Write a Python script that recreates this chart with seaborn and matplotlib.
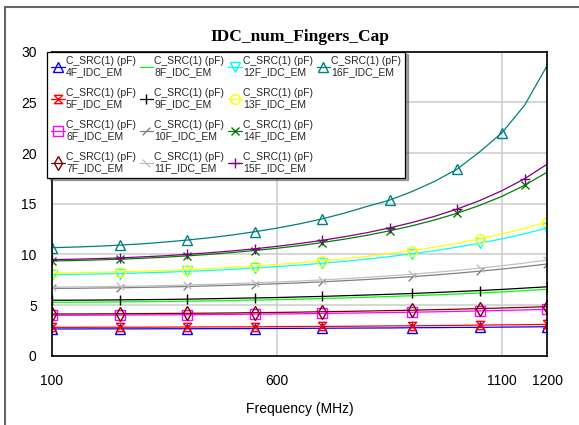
import matplotlib
matplotlib.use("Agg")
import matplotlib.pyplot as plt
from matplotlib.lines import Line2D
import seaborn as sns
import pandas as pd

freq = [100, 150, 200, 250, 300, 350, 400, 450, 500, 550, 600, 650,
        700, 750, 800, 850, 900, 950, 1000, 1050, 1100, 1150, 1200]

c4f = [2.64, 2.64, 2.65, 2.65, 2.65, 2.66, 2.66, 2.67, 2.67, 2.68, 2.69, 2.70,
       2.71, 2.72, 2.73, 2.74, 2.76, 2.77, 2.79, 2.80, 2.82, 2.84, 2.86]
c5f = [2.80, 2.80, 2.81, 2.81, 2.81, 2.82, 2.83, 2.84, 2.84, 2.85, 2.87, 2.88,
       2.89, 2.90, 2.92, 2.94, 2.95, 2.97, 2.99, 3.02, 3.04, 3.06, 3.09]
c6f = [3.99, 3.99, 4.00, 4.01, 4.02, 4.03, 4.04, 4.06, 4.08, 4.10, 4.12, 4.14,
       4.17, 4.20, 4.23, 4.26, 4.29, 4.33, 4.37, 4.42, 4.47, 4.52, 4.57]
c7f = [4.12, 4.12, 4.13, 4.14, 4.15, 4.17, 4.18, 4.20, 4.22, 4.25, 4.27, 4.30,
       4.34, 4.37, 4.41, 4.45, 4.49, 4.54, 4.59, 4.65, 4.71, 4.77, 4.84]
c8f = [5.27, 5.28, 5.29, 5.31, 5.33, 5.35, 5.38, 5.41, 5.45, 5.49, 5.53, 5.58,
       5.64, 5.70, 5.77, 5.84, 5.92, 6.00, 6.09, 6.19, 6.30, 6.42, 6.55]
c9f = [5.47, 5.48, 5.49, 5.51, 5.53, 5.55, 5.58, 5.62, 5.66, 5.70, 5.74, 5.80,
       5.85, 5.92, 5.99, 6.06, 6.14, 6.23, 6.33, 6.43, 6.54, 6.67, 6.80]
c10f = [6.64, 6.65, 6.68, 6.70, 6.74, 6.78, 6.83, 6.89, 6.95, 7.02, 7.10, 7.19,
        7.29, 7.40, 7.52, 7.66, 7.80, 7.96, 8.14, 8.34, 8.55, 8.79, 9.05]
c11f = [6.77, 6.79, 6.81, 6.84, 6.88, 6.92, 6.98, 7.04, 7.11, 7.19, 7.27, 7.37,
        7.48, 7.60, 7.73, 7.88, 8.04, 8.22, 8.42, 8.64, 8.88, 9.14, 9.44]
c12f = [8.00, 8.03, 8.06, 8.11, 8.17, 8.24, 8.32, 8.41, 8.52, 8.65, 8.79, 8.94,
        9.12, 9.31, 9.53, 9.78, 10.05, 10.36, 10.71, 11.10, 11.53, 12.03, 12.60]
c13f = [8.16, 8.19, 8.23, 8.28, 8.34, 8.41, 8.50, 8.60, 8.72, 8.85, 9.00, 9.17,
        9.36, 9.57, 9.81, 10.08, 10.38, 10.71, 11.09, 11.52, 12.01, 12.56, 13.20]
c14f = [9.35, 9.39, 9.45, 9.52, 9.61, 9.72, 9.85, 10.00, 10.18, 10.38, 10.60, 10.86,
        11.16, 11.50, 11.88, 12.32, 12.82, 13.39, 14.05, 14.83, 15.73, 16.81, 18.10]
c15f = [9.48, 9.52, 9.58, 9.65, 9.75, 9.86, 10.00, 10.16, 10.34, 10.55, 10.79, 11.07,
        11.38, 11.74, 12.14, 12.61, 13.14, 13.75, 14.47, 15.30, 16.29, 17.46, 18.89]
c16f = [10.66, 10.72, 10.80, 10.91, 11.04, 11.21, 11.41, 11.64, 11.91, 12.23, 12.59, 13.01,
        13.50, 14.07, 14.73, 15.35, 16.20, 17.20, 18.40, 20.10, 22.00, 24.70, 28.60]

names = ["4F_IDC_EM", "5F_IDC_EM", "6F_IDC_EM", "7F_IDC_EM", "8F_IDC_EM",
         "9F_IDC_EM", "10F_IDC_EM", "11F_IDC_EM", "12F_IDC_EM", "13F_IDC_EM",
         "14F_IDC_EM", "15F_IDC_EM", "16F_IDC_EM"]
series = [c4f, c5f, c6f, c7f, c8f, c9f, c10f, c11f, c12f, c13f, c14f, c15f, c16f]

x_ticks = [100, 600, 1100, 1200]
y_ticks = [0, 5, 10, 15, 20, 25, 30]

hourglass = [(-1, 1), (1, 1), (-1, -1), (1, -1), (-1, 1)]
slash = [(-1, -1), (1, 1)]
bslash = [(-1, 1), (1, -1)]

styles = [
    dict(color="#0000ff", marker="^", ms=6.5),
    dict(color="#ff0000", marker=hourglass, ms=6.0),
    dict(color="#ff00ff", marker="s", ms=6.5),
    dict(color="#800000", marker="d", ms=7),
    dict(color="#00ff00", marker=None, ms=0),
    dict(color="#000000", marker="|", ms=6.5),
    dict(color="#808080", marker=slash, ms=5.5),
    dict(color="#c0c0c0", marker=bslash, ms=5.5),
    dict(color="#00ffff", marker="v", ms=7),
    dict(color="#ffff00", marker="o", ms=7),
    dict(color="#008000", marker="x", ms=6),
    dict(color="#800080", marker="+", ms=7.5),
    dict(color="#008080", marker="^", ms=7),
]

sns.set_theme(style="white")
plt.rcParams["font.family"] = ["Liberation Sans", "DejaVu Sans"]

fig = plt.figure(figsize=(5.79, 4.25), dpi=100)
ax = fig.add_axes([52 / 579, 1 - 355.7 / 425, 495 / 579, 304 / 425])

handles = []
labels = []
for vals, nm, st in zip(series, names, styles):
    df = pd.DataFrame({"f": freq, "c": vals})
    kw = dict(color=st["color"], linewidth=0.9)
    if st["marker"] is not None:
        kw.update(marker=st["marker"], markersize=st["ms"], markerfacecolor="none",
                  markeredgecolor=st["color"], markeredgewidth=1.0,
                  markevery=(0.0, 0.1207))
    sns.lineplot(data=df, x="f", y="c", ax=ax, errorbar=None, **kw)
    h = Line2D([0], [0], color=st["color"], linewidth=0.9,
               marker=st["marker"] if st["marker"] is not None else "None",
               markersize=st["ms"], markerfacecolor="none",
               markeredgecolor=st["color"], markeredgewidth=1.0)
    handles.append(h)
    labels.append("C_SRC(1) (pF)\n" + nm)

# pad legend to 4 rows x 4 columns (column-major)
blank = Line2D([0], [0], color="none")
handles += [blank] * 3
labels += [""] * 3

ax.set_xlim(100, 1200)
ax.set_ylim(0, 30)
ax.set_xticks(x_ticks)
ax.set_xticklabels([str(v) for v in x_ticks])
ax.set_yticks(y_ticks)
ax.set_yticklabels([str(v) for v in y_ticks])
ax.tick_params(axis="both", length=0, labelsize=10, colors="black")
ax.tick_params(axis="x", pad=13)
ax.tick_params(axis="y", pad=11)
ax.grid(True, color="#cfcfcf", linewidth=1.2)
ax.set_axisbelow(True)
for sp in ax.spines.values():
    sp.set_color("black")
    sp.set_linewidth(1.2)
ax.set_xlabel("Frequency (MHz)", fontsize=10, labelpad=10, color="black")
ax.set_ylabel("")
ax.set_title("IDC_num_Fingers_Cap", fontsize=12.5, fontweight="bold",
             family=["Liberation Serif", "DejaVu Serif"], pad=8, color="black")

leg = ax.legend(handles, labels, ncol=4, loc="upper left",
                bbox_to_anchor=(-0.01, 1.0), borderaxespad=0, fontsize=7.5,
                frameon=True, fancybox=False, shadow=True, edgecolor="black",
                framealpha=1, handlelength=1.3, handletextpad=0.12,
                columnspacing=0.35, labelspacing=1.0, borderpad=0.4)
leg.get_frame().set_linewidth(0.9)

# outer frame lines (top and left)
fig.add_artist(Line2D([5 / 579, 1.0], [1 - 7 / 425, 1 - 7 / 425],
                      transform=fig.transFigure, color="#666666", linewidth=1.5))
fig.add_artist(Line2D([5 / 579, 5 / 579], [0.0, 1 - 7 / 425],
                      transform=fig.transFigure, color="#666666", linewidth=1.5))

fig.savefig("out.png", dpi=100)
